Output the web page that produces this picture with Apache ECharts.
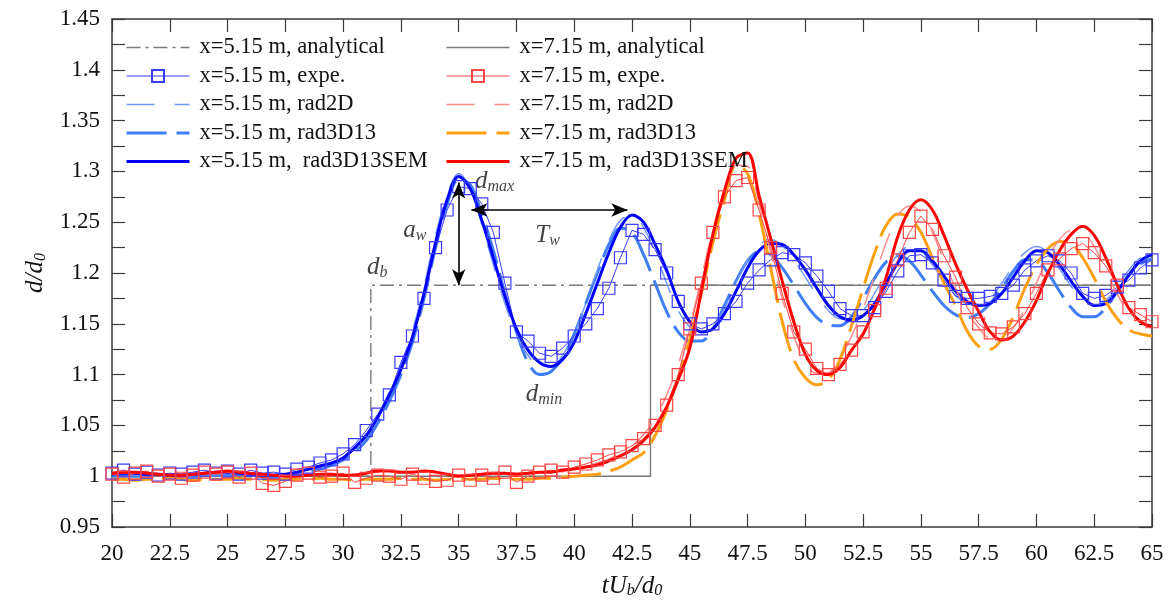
<!DOCTYPE html>
<html>
<head>
<meta charset="utf-8">
<script src="https://cdn.jsdelivr.net/npm/echarts@6/dist/echarts.min.js"></script>
<style>
  html, body { margin: 0; padding: 0; background: #fff; }
  #chart { width: 1169px; height: 604px; }
</style>
</head>
<body>
<div id="chart"></div>
<script>
// Dimensionless time tU_b/d_0 shared by every record
const T = [20,20.5,21,21.5,22,22.5,23,23.5,24,24.5,
           25,25.5,26,26.5,27,27.5,28,28.5,29,29.5,
           30,30.5,31,31.5,32,32.5,33,33.5,34,34.5,
           35,35.5,36,36.5,37,37.5,38,38.5,39,39.5,
           40,40.5,41,41.5,42,42.5,43,43.5,44,44.5,
           45,45.5,46,46.5,47,47.5,48,48.5,49,49.5,
           50,50.5,51,51.5,52,52.5,53,53.5,54,54.5,
           55,55.5,56,56.5,57,57.5,58,58.5,59,59.5,
           60,60.5,61,61.5,62,62.5,63,63.5,64,64.5,
           65];

// x = 5.15 m
const exp515 = [1.003,1.006,1.002,1.004,1.001,1.003,1.002,1.004,1.006,1.003,
                1.005,1.002,1.006,1.003,1.004,1.002,1.007,1.009,1.013,1.016,
                1.022,1.031,1.045,1.061,1.080,1.112,1.138,1.175,1.225,1.262,
                1.285,1.283,1.268,1.240,1.190,1.142,1.133,1.121,1.118,1.126,
                1.138,1.150,1.165,1.185,1.215,1.242,1.238,1.223,1.200,1.172,
                1.150,1.145,1.150,1.160,1.172,1.190,1.203,1.213,1.220,1.218,
                1.210,1.197,1.182,1.165,1.158,1.158,1.166,1.182,1.202,1.217,
                1.218,1.210,1.193,1.177,1.175,1.175,1.177,1.180,1.188,1.203,
                1.212,1.217,1.212,1.200,1.180,1.175,1.178,1.186,1.193,1.205,
                1.213];
const r2d515 = [1.001,1.002,1.001,1.001,1.000,1.001,1.002,1.001,1.001,1.002,
                1.003,1.002,1.001,1.001,1.002,1.003,1.004,1.006,1.008,1.013,
                1.019,1.029,1.042,1.060,1.083,1.110,1.143,1.187,1.237,1.277,
                1.298,1.283,1.248,1.208,1.170,1.140,1.119,1.108,1.108,1.119,
                1.140,1.170,1.203,1.232,1.252,1.257,1.245,1.220,1.190,1.163,
                1.147,1.141,1.147,1.165,1.190,1.213,1.228,1.233,1.227,1.213,
                1.196,1.178,1.163,1.155,1.155,1.163,1.180,1.201,1.218,1.226,
                1.222,1.208,1.192,1.178,1.170,1.169,1.175,1.190,1.207,1.220,
                1.226,1.220,1.204,1.187,1.174,1.168,1.173,1.187,1.203,1.215,
                1.220];
const r3d515 = [1.000,1.000,1.000,1.000,0.999,0.999,1.000,1.000,1.000,1.001,
                1.001,1.001,1.000,1.000,1.000,1.001,1.002,1.004,1.007,1.011,
                1.016,1.024,1.035,1.052,1.074,1.100,1.132,1.175,1.225,1.268,
                1.292,1.287,1.258,1.222,1.180,1.142,1.112,1.100,1.103,1.117,
                1.140,1.170,1.200,1.228,1.244,1.240,1.218,1.190,1.162,1.142,
                1.133,1.133,1.145,1.168,1.192,1.212,1.221,1.218,1.205,1.188,
                1.170,1.156,1.149,1.148,1.157,1.175,1.195,1.211,1.217,1.212,
                1.198,1.182,1.168,1.159,1.156,1.160,1.170,1.185,1.202,1.213,
                1.212,1.200,1.182,1.166,1.157,1.157,1.166,1.182,1.198,1.209,
                1.214];
const sem515 = [1.002,1.003,1.003,1.002,1.002,1.001,1.001,1.002,1.003,1.004,
                1.004,1.003,1.002,1.001,1.001,1.002,1.004,1.007,1.010,1.013,
                1.018,1.028,1.040,1.058,1.080,1.105,1.137,1.180,1.230,1.272,
                1.295,1.283,1.252,1.215,1.177,1.145,1.124,1.112,1.108,1.115,
                1.132,1.160,1.190,1.220,1.245,1.257,1.250,1.228,1.203,1.172,
                1.152,1.142,1.145,1.160,1.182,1.205,1.222,1.229,1.228,1.218,
                1.203,1.185,1.168,1.157,1.154,1.158,1.170,1.190,1.210,1.222,
                1.222,1.212,1.197,1.182,1.172,1.168,1.170,1.180,1.196,1.212,
                1.222,1.220,1.208,1.192,1.177,1.168,1.170,1.182,1.198,1.212,
                1.218];

// x = 7.15 m
const exp715 = [1.002,0.999,1.003,1.005,1.000,1.002,0.998,1.001,1.004,1.002,
                1.004,0.999,1.003,0.993,0.991,0.995,1.001,1.003,0.999,1.000,
                1.003,0.994,0.998,1.001,1.000,0.997,1.002,0.998,0.995,0.996,
                1.001,0.996,1.001,0.998,1.004,0.994,1.000,1.004,1.006,1.004,
                1.009,1.012,1.016,1.021,1.024,1.030,1.037,1.050,1.070,1.100,
                1.145,1.190,1.240,1.275,1.291,1.294,1.262,1.225,1.180,1.142,
                1.125,1.106,1.100,1.110,1.124,1.142,1.163,1.185,1.213,1.240,
                1.256,1.243,1.217,1.196,1.166,1.150,1.141,1.140,1.147,1.160,
                1.180,1.203,1.214,1.224,1.229,1.220,1.207,1.188,1.166,1.159,
                1.152];
const r2d715 = [1.002,1.003,1.003,1.002,1.001,1.001,1.002,1.002,1.003,1.003,
                1.004,1.003,1.002,1.001,1.001,1.001,1.001,1.002,1.002,1.002,
                1.002,1.002,1.003,1.004,1.004,1.004,1.004,1.004,1.003,1.002,
                1.001,1.001,1.002,1.002,1.003,1.003,1.003,1.003,1.004,1.005,
                1.007,1.010,1.013,1.017,1.023,1.030,1.041,1.057,1.080,1.110,
                1.148,1.195,1.243,1.282,1.306,1.305,1.268,1.220,1.175,1.138,
                1.112,1.101,1.102,1.116,1.138,1.165,1.197,1.230,1.256,1.266,
                1.260,1.240,1.212,1.185,1.162,1.146,1.136,1.136,1.146,1.165,
                1.190,1.215,1.233,1.242,1.240,1.226,1.203,1.179,1.162,1.152,
                1.148];
const r3d715 = [0.997,0.997,0.996,0.997,0.997,0.998,0.997,0.996,0.997,0.997,
                0.997,0.998,0.997,0.997,0.996,0.997,0.997,0.997,0.998,0.997,
                0.997,0.996,0.997,0.997,0.997,0.998,0.997,0.997,0.996,0.997,
                0.997,0.997,0.997,0.998,0.997,0.997,0.997,0.998,0.998,0.999,
                1.000,1.001,1.002,1.005,1.009,1.016,1.023,1.040,1.065,1.097,
                1.135,1.180,1.230,1.272,1.306,1.298,1.258,1.205,1.152,1.115,
                1.097,1.090,1.095,1.115,1.148,1.185,1.220,1.247,1.258,1.255,
                1.240,1.215,1.190,1.168,1.143,1.128,1.125,1.135,1.157,1.185,
                1.208,1.224,1.231,1.229,1.215,1.195,1.172,1.155,1.144,1.140,
                1.138];
const sem715 = [1.003,1.004,1.004,1.003,1.002,1.001,1.001,1.002,1.003,1.004,
                1.005,1.004,1.003,1.002,1.001,1.000,1.000,1.001,1.002,1.002,
                1.001,1.001,1.003,1.005,1.005,1.004,1.004,1.005,1.004,1.002,
                1.000,1.001,1.002,1.003,1.003,1.002,1.003,1.004,1.004,1.006,
                1.007,1.009,1.011,1.015,1.020,1.026,1.035,1.048,1.068,1.095,
                1.126,1.182,1.238,1.281,1.313,1.318,1.276,1.234,1.192,1.152,
                1.120,1.104,1.100,1.107,1.124,1.140,1.165,1.196,1.236,1.262,
                1.272,1.262,1.237,1.209,1.184,1.162,1.142,1.134,1.138,1.152,
                1.173,1.200,1.222,1.238,1.246,1.237,1.215,1.188,1.165,1.152,
                1.147];

// Analytical step solutions: front arrival time and bore depth d_b
const anaT515 = [20, 31.2, 31.2, 65];
const anaV515 = [1, 1, 1.188, 1.188];
const anaT715 = [20, 43.3, 43.3, 65];
const anaV715 = [1, 1, 1.188, 1.188];

const NAMES_515 = ['x=5.15 m, analytical', 'x=5.15 m, expe.', 'x=5.15 m, rad2D',
                   'x=5.15 m, rad3D13', 'x=5.15 m,  rad3D13SEM'];
const NAMES_715 = ['x=7.15 m, analytical', 'x=7.15 m, expe.', 'x=7.15 m, rad2D',
                   'x=7.15 m, rad3D13', 'x=7.15 m,  rad3D13SEM'];

const serif = "'Liberation Serif','Times New Roman',serif";
const ink = '#111';
const axisCol = '#3a3a3a';
const clear = 'rgba(0,0,0,0)';
const zip = (xs, ys) => xs.map((x, i) => [x, ys[i]]);

// Wave features of the 5.15 m record used for the annotations
const dMax = Math.max(...sem515);
const iMax = sem515.indexOf(dMax);
const tMax = T[iMax];
let iMax2 = -1, iMin = -1;
for (let i = iMax + 1; i < T.length; i++) {
  if (T[i] > tMax + 10) break;
  if (T[i] > tMax + 4 && (iMax2 < 0 || sem515[i] > sem515[iMax2])) iMax2 = i;
}
for (let i = iMax + 1; i < iMax2; i++) {
  if (iMin < 0 || sem515[i] < sem515[iMin]) iMin = i;
}
const tMax2 = T[iMax2];
const dMin = sem515[iMin];
const tMin = T[iMin];
const dB = anaV515[2];
const tB = anaT515[1];
const tWaveY = dMax - 0.033;

const rich = {
  i: { fontFamily: serif, fontStyle: 'italic', fontSize: 25, color: ink, lineHeight: 26 },
  s: { fontFamily: serif, fontStyle: 'italic', fontSize: 16, color: ink, lineHeight: 16, verticalAlign: 'bottom' }
};

// Plain curves: transparent item colour keeps the legend sample a bare line
function curve(name, vals, color, width, dash) {
  return {
    name, type: 'line', data: zip(T, vals), symbol: 'none', smooth: 0.35,
    lineStyle: { color, width, type: dash || 'solid' },
    itemStyle: { color: clear, borderWidth: 0 }, emphasis: { disabled: true }, silent: true
  };
}
function expe(name, vals, color) {
  return {
    name, type: 'line', data: zip(T, vals), symbol: 'rect', symbolSize: 12,
    showSymbol: true, showAllSymbol: true,
    lineStyle: { color, width: 1 },
    itemStyle: { color: clear, borderColor: color, borderWidth: 1.2 },
    emphasis: { disabled: true }, silent: true
  };
}
function analytical(name, ts, vs, dash) {
  return {
    name, type: 'line', data: zip(ts, vs), symbol: 'none',
    lineStyle: { color: '#7a7a7a', width: 1.4, type: dash || 'solid' },
    itemStyle: { color: clear, borderWidth: 0 }, emphasis: { disabled: true }, silent: true
  };
}
function note(x, y, text, position) {
  return { value: [x, y], label: { show: true, formatter: text, position, distance: 0, rich } };
}

const blueSem = curve(NAMES_515[4], sem515, '#0000ff', 3);
blueSem.markLine = {
  silent: true, animation: false,
  symbol: ['arrow', 'arrow'], symbolSize: [10, 16],
  lineStyle: { color: '#000', width: 1.6, type: 'solid' },
  itemStyle: { color: '#000' },
  label: { show: false }, emphasis: { disabled: true },
  data: [
    [{ coord: [tMax, dB] }, { coord: [tMax, dMax - 0.006] }],
    [{ coord: [tMax + 0.55, tWaveY] }, { coord: [tMax2 - 0.2, tWaveY] }]
  ]
};

const series = [
  analytical(NAMES_715[0], anaT715, anaV715),
  analytical(NAMES_515[0], anaT515, anaV515, [14, 5, 3, 5]),
  curve(NAMES_515[3], r3d515, '#3f7ef5', 3, [40, 10]),
  curve(NAMES_515[2], r2d515, '#7098ff', 1.5, [28, 20]),
  expe(NAMES_515[1], exp515, '#3b3bff'),
  blueSem,
  curve(NAMES_715[3], r3d715, '#ffa011', 3, [40, 10]),
  curve(NAMES_715[2], r2d715, '#ff8c8c', 1.5, [28, 20]),
  expe(NAMES_715[1], exp715, '#ff4545'),
  curve(NAMES_715[4], sem715, '#ff0000', 3),
  {
    name: 'notes', type: 'scatter', symbolSize: 0.1, silent: true,
    itemStyle: { color: clear },
    data: [
      note(tMax + 0.7, dMax - 0.005, '{i|d}{s|max}', 'right'),
      note(tMax - 2.4, (dB + dMax) / 2, '{i|a}{s|w}', 'right'),
      note((tMax + tMax2) / 2 + 0.1, tWaveY - 0.025, '{i|T}{s|w}', 'inside'),
      note(tB - 0.17, dB + 0.017, '{i|d}{s|b}', 'right'),
      note(tMin - 1.1, dMin - 0.028, '{i|d}{s|min}', 'right')
    ]
  }
];

const tickStyle = { color: axisCol, width: 1.2 };
const lineStyleAxis = { color: axisCol, width: 1.5 };

function legendCol(names, left) {
  return {
    data: names, left, top: 36, orient: 'vertical', padding: 0,
    itemWidth: 63, itemHeight: 15, itemGap: 5.5, selectedMode: false,
    lineStyle: { width: 'inherit' },
    textStyle: { fontFamily: serif, fontSize: 22.5, color: ink, lineHeight: 22, padding: [0, 0, 0, 5] }
  };
}

const option = {
  animation: false,
  backgroundColor: '#fff',
  grid: { left: 112, right: 17, top: 19, bottom: 68 },
  legend: [legendCol(NAMES_515, 125), legendCol(NAMES_715, 445)],
  xAxis: [
    {
      type: 'value', min: 20, max: 65, interval: 2.5, position: 'bottom',
      axisLine: { onZero: false, lineStyle: lineStyleAxis },
      axisTick: { inside: true, length: 13, lineStyle: tickStyle },
      axisLabel: { margin: 15, fontFamily: serif, fontSize: 23, color: ink },
      splitLine: { show: false },
      name: '{i|tU}{s|b}{i|/d}{s|0}', nameLocation: 'middle', nameGap: 46,
      nameTextStyle: { rich }
    },
    {
      type: 'value', min: 20, max: 65, interval: 2.5, position: 'top',
      axisLine: { onZero: false, lineStyle: lineStyleAxis },
      axisTick: { inside: true, length: 13, lineStyle: tickStyle },
      axisLabel: { show: false }, splitLine: { show: false }
    }
  ],
  yAxis: [
    {
      type: 'value', min: 0.95, max: 1.45, interval: 0.05, position: 'left',
      axisLine: { onZero: false, lineStyle: lineStyleAxis },
      axisTick: { inside: true, length: 13, lineStyle: tickStyle },
      minorTick: { show: true, splitNumber: 2, length: 13, lineStyle: tickStyle },
      axisLabel: { margin: 12, fontFamily: serif, fontSize: 23, color: ink },
      splitLine: { show: false },
      name: '{i|d/d}{s|0}', nameLocation: 'middle', nameGap: 58, nameRotate: 90,
      nameTextStyle: { rich }
    },
    {
      type: 'value', min: 0.95, max: 1.45, interval: 0.05, position: 'right',
      axisLine: { onZero: false, lineStyle: lineStyleAxis },
      axisTick: { inside: true, length: 13, lineStyle: tickStyle },
      minorTick: { show: true, splitNumber: 2, length: 13, lineStyle: tickStyle },
      axisLabel: { show: false }, splitLine: { show: false }
    }
  ],
  series
};

const chart = echarts.init(document.getElementById('chart'), null, { renderer: 'canvas' });
chart.setOption(option);
</script>
</body>
</html>
